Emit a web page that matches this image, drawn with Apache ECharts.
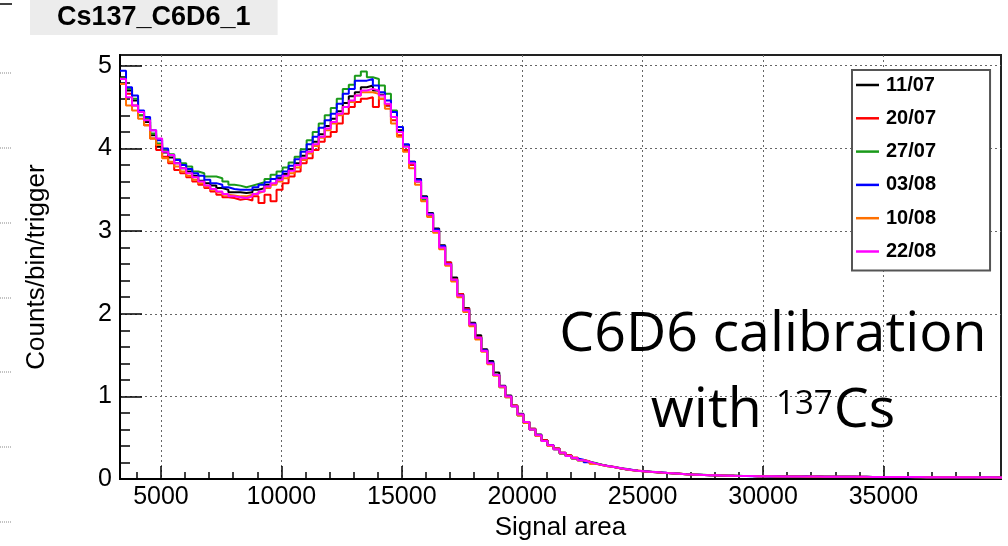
<!DOCTYPE html>
<html><head><meta charset="utf-8">
<script src="https://cdn.jsdelivr.net/npm/echarts@6/dist/echarts.min.js"></script>
<style>html,body{margin:0;padding:0;background:#fff}#c{width:1008px;height:546px}</style>
</head><body><div id="c"></div>
<script>
// ---- data ----
const binStart = 3300;   // lower edge of first bin (Signal area)
const binWidth = 250;
const seriesNames = ['11/07', '20/07', '27/07', '03/08', '10/08', '22/08'];
const seriesColors = ['#000000', '#ff0000', '#1a9a1a', '#0000ff', '#ff7000', '#ff00ff'];

const v1107 = [4.86,4.70,4.58,4.44,4.32,4.16,4.02,3.95,3.89,3.82,
3.76,3.72,3.67,3.61,3.58,3.55,3.52,3.50,3.47,3.47,
3.46,3.47,3.50,3.52,3.56,3.58,3.64,3.69,3.75,3.82,
3.91,3.99,4.08,4.17,4.27,4.36,4.45,4.55,4.63,4.68,
4.74,4.76,4.70,4.65,4.52,4.38,4.22,4.04,3.84,3.63,
3.42,3.22,3.03,2.83,2.62,2.44,2.24,2.07,1.89,1.74,
1.57,1.43,1.29,1.13,1.01,0.89,0.79,0.69,0.61,0.54,
0.47,0.41,0.37,0.32,0.285,
0.255,0.23,0.21,0.19,0.175,0.16,0.145,0.135,0.12,0.11,
0.10,0.095,0.09,0.085,0.08,0.074,0.07,0.065,0.06,0.057,
0.054,0.051,0.048,0.046,0.044,0.042,0.04,0.039,0.037,0.036,
0.035,0.034,0.033,0.033,0.032,0.032,0.031,0.031,0.030,0.030,
0.030,0.029,0.029,0.028,0.028,0.028,0.027,0.027,0.027,0.026,
0.026,0.026,0.025,0.025,0.025,0.024,0.024,0.024,0.023,0.023,
0.023,0.023,0.022,0.022,0.022,0.022,0.021,0.021,0.021,0.021,
0.020,0.020];

const v2007 = [4.85,4.66,4.52,4.40,4.28,4.12,3.98,3.90,3.82,3.74,
3.70,3.65,3.60,3.56,3.52,3.48,3.44,3.41,3.40,3.38,
3.39,3.37,3.42,3.34,3.44,3.36,3.50,3.58,3.66,3.72,
3.82,3.88,3.98,4.08,4.14,4.20,4.30,4.42,4.50,4.56,
4.60,4.62,4.50,4.60,4.52,4.34,4.16,3.98,3.80,3.60,
3.40,3.20,3.01,2.82,2.62,2.42,2.24,2.06,1.88,1.72,
1.56,1.40,1.26,1.12,1.00,0.89,0.78,0.69,0.61,0.53,
0.47,0.41,0.37,0.32,0.29,
0.26,0.23,0.215,0.19,0.17,0.16,0.15,0.13,0.12,0.11,
0.105,0.095,0.09,0.083,0.078,0.075,0.068,0.064,0.06,0.056,
0.053,0.05,0.049,0.045,0.043,0.042,0.04,0.038,0.037,0.036,
0.034,0.034,0.033,0.032,0.032,0.031,0.031,0.031,0.030,0.029,
0.030,0.029,0.028,0.028,0.028,0.027,0.027,0.027,0.026,0.026,
0.026,0.025,0.025,0.025,0.024,0.024,0.024,0.024,0.023,0.023,
0.023,0.022,0.022,0.022,0.022,0.021,0.021,0.021,0.021,0.020,
0.020,0.020];

const v2707 = [4.85,4.72,4.60,4.40,4.36,4.18,4.06,3.98,3.93,3.87,
3.82,3.78,3.72,3.70,3.66,3.66,3.64,3.60,3.56,3.55,
3.53,3.55,3.57,3.59,3.63,3.68,3.72,3.77,3.83,3.90,
3.99,4.10,4.20,4.30,4.40,4.49,4.60,4.72,4.77,4.88,
4.93,4.86,4.84,4.76,4.66,4.46,4.26,4.04,3.82,3.60,
3.38,3.19,3.00,2.80,2.60,2.41,2.22,2.04,1.86,1.71,
1.55,1.40,1.26,1.11,0.99,0.88,0.77,0.69,0.60,0.52,
0.46,0.40,0.36,0.31,0.28,
0.25,0.225,0.21,0.195,0.175,0.155,0.145,0.135,0.125,0.11,
0.10,0.096,0.088,0.086,0.078,0.074,0.07,0.066,0.06,0.058,
0.053,0.052,0.047,0.046,0.045,0.041,0.04,0.04,0.036,0.036,
0.035,0.033,0.033,0.034,0.031,0.032,0.031,0.030,0.031,0.029,
0.030,0.029,0.028,0.028,0.029,0.027,0.027,0.026,0.027,0.026,
0.025,0.026,0.025,0.024,0.025,0.024,0.024,0.023,0.023,0.024,
0.022,0.023,0.022,0.022,0.021,0.022,0.021,0.021,0.020,0.021,
0.020,0.020];

const v0308 = [4.94,4.74,4.64,4.46,4.38,4.22,4.10,4.00,3.92,3.86,
3.80,3.75,3.70,3.67,3.62,3.58,3.56,3.53,3.51,3.50,
3.50,3.50,3.53,3.56,3.59,3.63,3.67,3.72,3.79,3.87,
3.96,4.05,4.14,4.25,4.34,4.42,4.54,4.66,4.72,4.82,
4.82,4.84,4.76,4.68,4.58,4.44,4.26,4.05,3.84,3.62,
3.41,3.21,3.02,2.82,2.60,2.41,2.22,2.05,1.88,1.71,
1.56,1.41,1.26,1.12,1.00,0.88,0.78,0.68,0.60,0.53,
0.46,0.41,0.36,0.31,0.28,
0.25,0.235,0.205,0.19,0.17,0.16,0.148,0.13,0.12,0.112,
0.10,0.094,0.09,0.084,0.079,0.075,0.069,0.064,0.061,0.056,
0.054,0.05,0.048,0.047,0.043,0.042,0.041,0.038,0.037,0.035,
0.035,0.034,0.032,0.033,0.031,0.032,0.030,0.031,0.030,0.029,
0.029,0.029,0.028,0.028,0.027,0.028,0.027,0.026,0.026,0.026,
0.025,0.025,0.025,0.024,0.024,0.023,0.024,0.023,0.023,0.022,
0.023,0.022,0.022,0.021,0.022,0.021,0.021,0.020,0.021,0.020,
0.020,0.019];

const v1008 = [4.78,4.52,4.46,4.36,4.28,4.12,4.04,3.88,3.84,3.78,
3.72,3.67,3.62,3.58,3.54,3.50,3.47,3.44,3.43,3.42,
3.42,3.44,3.46,3.48,3.52,3.56,3.60,3.64,3.70,3.77,
3.86,3.94,4.03,4.13,4.22,4.30,4.40,4.50,4.56,4.64,
4.68,4.68,4.66,4.60,4.48,4.30,4.14,3.96,3.76,3.56,
3.36,3.17,2.98,2.78,2.58,2.39,2.20,2.02,1.85,1.69,
1.54,1.39,1.25,1.11,0.99,0.88,0.77,0.68,0.60,0.52,
0.46,0.40,0.36,0.31,0.28,
0.25,0.225,0.21,0.185,0.17,0.155,0.145,0.13,0.12,0.108,
0.10,0.093,0.088,0.084,0.078,0.073,0.068,0.065,0.059,0.057,
0.053,0.051,0.047,0.046,0.044,0.041,0.04,0.039,0.036,0.036,
0.034,0.034,0.033,0.032,0.032,0.031,0.030,0.031,0.029,0.030,
0.029,0.028,0.029,0.028,0.027,0.027,0.027,0.026,0.026,0.025,
0.026,0.025,0.024,0.025,0.024,0.024,0.023,0.023,0.023,0.022,
0.022,0.023,0.022,0.021,0.021,0.021,0.021,0.020,0.020,0.020,
0.019,0.020];

const v2208 = [4.84,4.62,4.52,4.44,4.34,4.22,4.12,3.96,3.92,3.82,
3.76,3.70,3.65,3.60,3.55,3.51,3.48,3.45,3.42,3.41,
3.40,3.42,3.45,3.48,3.54,3.58,3.62,3.67,3.73,3.80,
3.88,3.96,4.05,4.14,4.24,4.32,4.42,4.50,4.58,4.64,
4.70,4.72,4.70,4.64,4.54,4.38,4.20,4.02,3.82,3.60,
3.40,3.20,3.00,2.80,2.60,2.41,2.22,2.04,1.87,1.71,
1.55,1.40,1.26,1.12,1.00,0.88,0.78,0.69,0.60,0.53,
0.46,0.41,0.36,0.32,0.28,
0.255,0.228,0.21,0.19,0.172,0.158,0.146,0.134,0.122,0.11,
0.101,0.095,0.089,0.085,0.079,0.074,0.07,0.065,0.06,0.057,
0.054,0.051,0.048,0.046,0.044,0.042,0.040,0.039,0.037,0.036,
0.035,0.034,0.033,0.033,0.032,0.032,0.031,0.031,0.030,0.030,
0.030,0.029,0.029,0.028,0.028,0.028,0.027,0.027,0.027,0.026,
0.026,0.026,0.025,0.025,0.025,0.024,0.024,0.024,0.023,0.023,
0.023,0.023,0.022,0.022,0.022,0.022,0.021,0.021,0.021,0.021,
0.020,0.020];

const seriesValues = [v1107, v2007, v2707, v0308, v1008, v2208];

const xMajorTicks = [5000, 10000, 15000, 20000, 25000, 30000, 35000];
const xMinorTicks = [4000,6000,7000,8000,9000,11000,12000,13000,14000,16000,17000,18000,19000,
  21000,22000,23000,24000,26000,27000,28000,29000,31000,32000,33000,34000,36000,37000,38000,39000];
const yMajorTicks = [0, 1, 2, 3, 4, 5];
const yMinorTicks = [0.2,0.4,0.6,0.8,1.2,1.4,1.6,1.8,2.2,2.4,2.6,2.8,3.2,3.4,3.6,3.8,4.2,4.4,4.6,4.8];

const xMin = 3300, xMax = 39880, yMin = 0, yMax = 5.13;

// ---- chart ----
const FONT = '"Liberation Sans", Arial, sans-serif';
function histData(vals) {
  const d = vals.map((v, i) => [binStart + i * binWidth, v]);
  d.push([binStart + vals.length * binWidth, vals[vals.length - 1]]);
  return d;
}

const chart = echarts.init(document.getElementById('c'), null, { renderer: 'canvas' });

const gridLine = { show: true, lineStyle: { color: '#666', width: 1, type: [2, 3] } };
const plain = v => String(v);

const option = {
  backgroundColor: '#ffffff',
  animation: false,
  title: {
    text: 'Cs137_C6D6_1',
    left: 30, top: 0,
    backgroundColor: '#ececec',
    padding: [4, 27, 4, 27],
    textStyle: { fontFamily: FONT, fontWeight: 'bold', fontSize: 27, lineHeight: 27, color: '#000' }
  },
  grid: { left: 120, right: 7, top: 55, bottom: 64, show: true, borderColor: '#222', borderWidth: 2, backgroundColor: '#fff' },
  legend: {
    orient: 'vertical', left: 852, top: 70,
    padding: [5, 54, 9, 4],
    itemGap: 13.3, itemWidth: 23, itemHeight: 2.5,
    icon: 'rect',
    backgroundColor: '#fff', borderColor: '#555', borderWidth: 2,
    textStyle: { fontFamily: FONT, fontWeight: 'bold', fontSize: 20, lineHeight: 20, color: '#000', padding: [0, 0, 0, 2] },
    data: seriesNames
  },
  xAxis: [
    {
      type: 'value', min: xMin, max: xMax, position: 'bottom',
      axisLine: { show: true, onZero: false, lineStyle: { color: '#000', width: 2 } },
      axisTick: { show: true, inside: true, length: 13, customValues: xMajorTicks, lineStyle: { color: '#000', width: 1.5 } },
      axisLabel: { customValues: xMajorTicks, formatter: plain, fontFamily: FONT, fontSize: 25, color: '#000', margin: 6 },
      splitLine: gridLine,
      name: 'Signal area', nameLocation: 'middle', nameGap: 35,
      nameTextStyle: { fontFamily: FONT, fontSize: 26, color: '#000' }
    },
    {
      type: 'value', min: xMin, max: xMax, position: 'bottom',
      axisLine: { show: false },
      axisTick: { show: true, inside: true, length: 7, customValues: xMinorTicks, lineStyle: { color: '#000', width: 1.5 } },
      axisLabel: { show: false },
      splitLine: { show: false }
    }
  ],
  yAxis: [
    {
      type: 'value', min: yMin, max: yMax, position: 'left',
      axisLine: { show: true, onZero: false, lineStyle: { color: '#000', width: 2 } },
      axisTick: { show: true, inside: true, length: 22, customValues: yMajorTicks, lineStyle: { color: '#000', width: 1.5 } },
      axisLabel: { customValues: yMajorTicks, formatter: plain, fontFamily: FONT, fontSize: 25, color: '#000', margin: 8 },
      splitLine: gridLine,
      name: 'Counts/bin/trigger', nameLocation: 'middle', nameGap: 70, nameRotate: 90,
      nameTextStyle: { fontFamily: FONT, fontSize: 26, color: '#000' }
    },
    {
      type: 'value', min: yMin, max: yMax, position: 'left',
      axisLine: { show: false },
      axisTick: { show: true, inside: true, length: 10, customValues: yMinorTicks, lineStyle: { color: '#000', width: 1.5 } },
      axisLabel: { show: false },
      splitLine: { show: false }
    }
  ],
  series: seriesNames.map((name, k) => ({
    name: name,
    type: 'line',
    xAxisIndex: 0, yAxisIndex: 0,
    step: 'end',
    symbol: 'none',
    clip: true,
    color: seriesColors[k],
    lineStyle: { color: seriesColors[k], width: 2 },
    data: histData(seriesValues[k]),
    z: 2 + k
  })),
  graphic: [
    { type: 'line', shape: { x1: 0, y1: 4, x2: 12, y2: 4 }, style: { stroke: '#000', lineWidth: 1.5 } },
    { type: 'line', shape: { x1: 0, y1: 73, x2: 12, y2: 73 }, style: { stroke: '#888', lineWidth: 1, lineDash: [1, 1] } },
    { type: 'line', shape: { x1: 0, y1: 148, x2: 12, y2: 148 }, style: { stroke: '#888', lineWidth: 1, lineDash: [1, 1] } },
    { type: 'line', shape: { x1: 0, y1: 223, x2: 12, y2: 223 }, style: { stroke: '#888', lineWidth: 1, lineDash: [1, 1] } },
    { type: 'line', shape: { x1: 0, y1: 298, x2: 12, y2: 298 }, style: { stroke: '#888', lineWidth: 1, lineDash: [1, 1] } },
    { type: 'line', shape: { x1: 0, y1: 372, x2: 12, y2: 372 }, style: { stroke: '#888', lineWidth: 1, lineDash: [1, 1] } },
    { type: 'line', shape: { x1: 0, y1: 447, x2: 12, y2: 447 }, style: { stroke: '#888', lineWidth: 1, lineDash: [1, 1] } },
    { type: 'line', shape: { x1: 0, y1: 522, x2: 12, y2: 522 }, style: { stroke: '#888', lineWidth: 1, lineDash: [1, 1] } },
    {
      type: 'text', x: 773, y: 297, z: 100,
      style: {
        text: '{a|C6D6 calibration}\n{a|with }{s|137}{a|Cs}',
        align: 'center', verticalAlign: 'top',
        rich: {
          a: { fontFamily: '"Open Sans", sans-serif', fontSize: 55.5, lineHeight: 76, fill: '#000' },
          s: { fontFamily: '"Open Sans", sans-serif', fontSize: 33, lineHeight: 40, padding: [15, 1, 0, 0], verticalAlign: 'top', fill: '#000' }
        }
      }
    }
  ]
};
chart.setOption(option);
</script></body></html>
